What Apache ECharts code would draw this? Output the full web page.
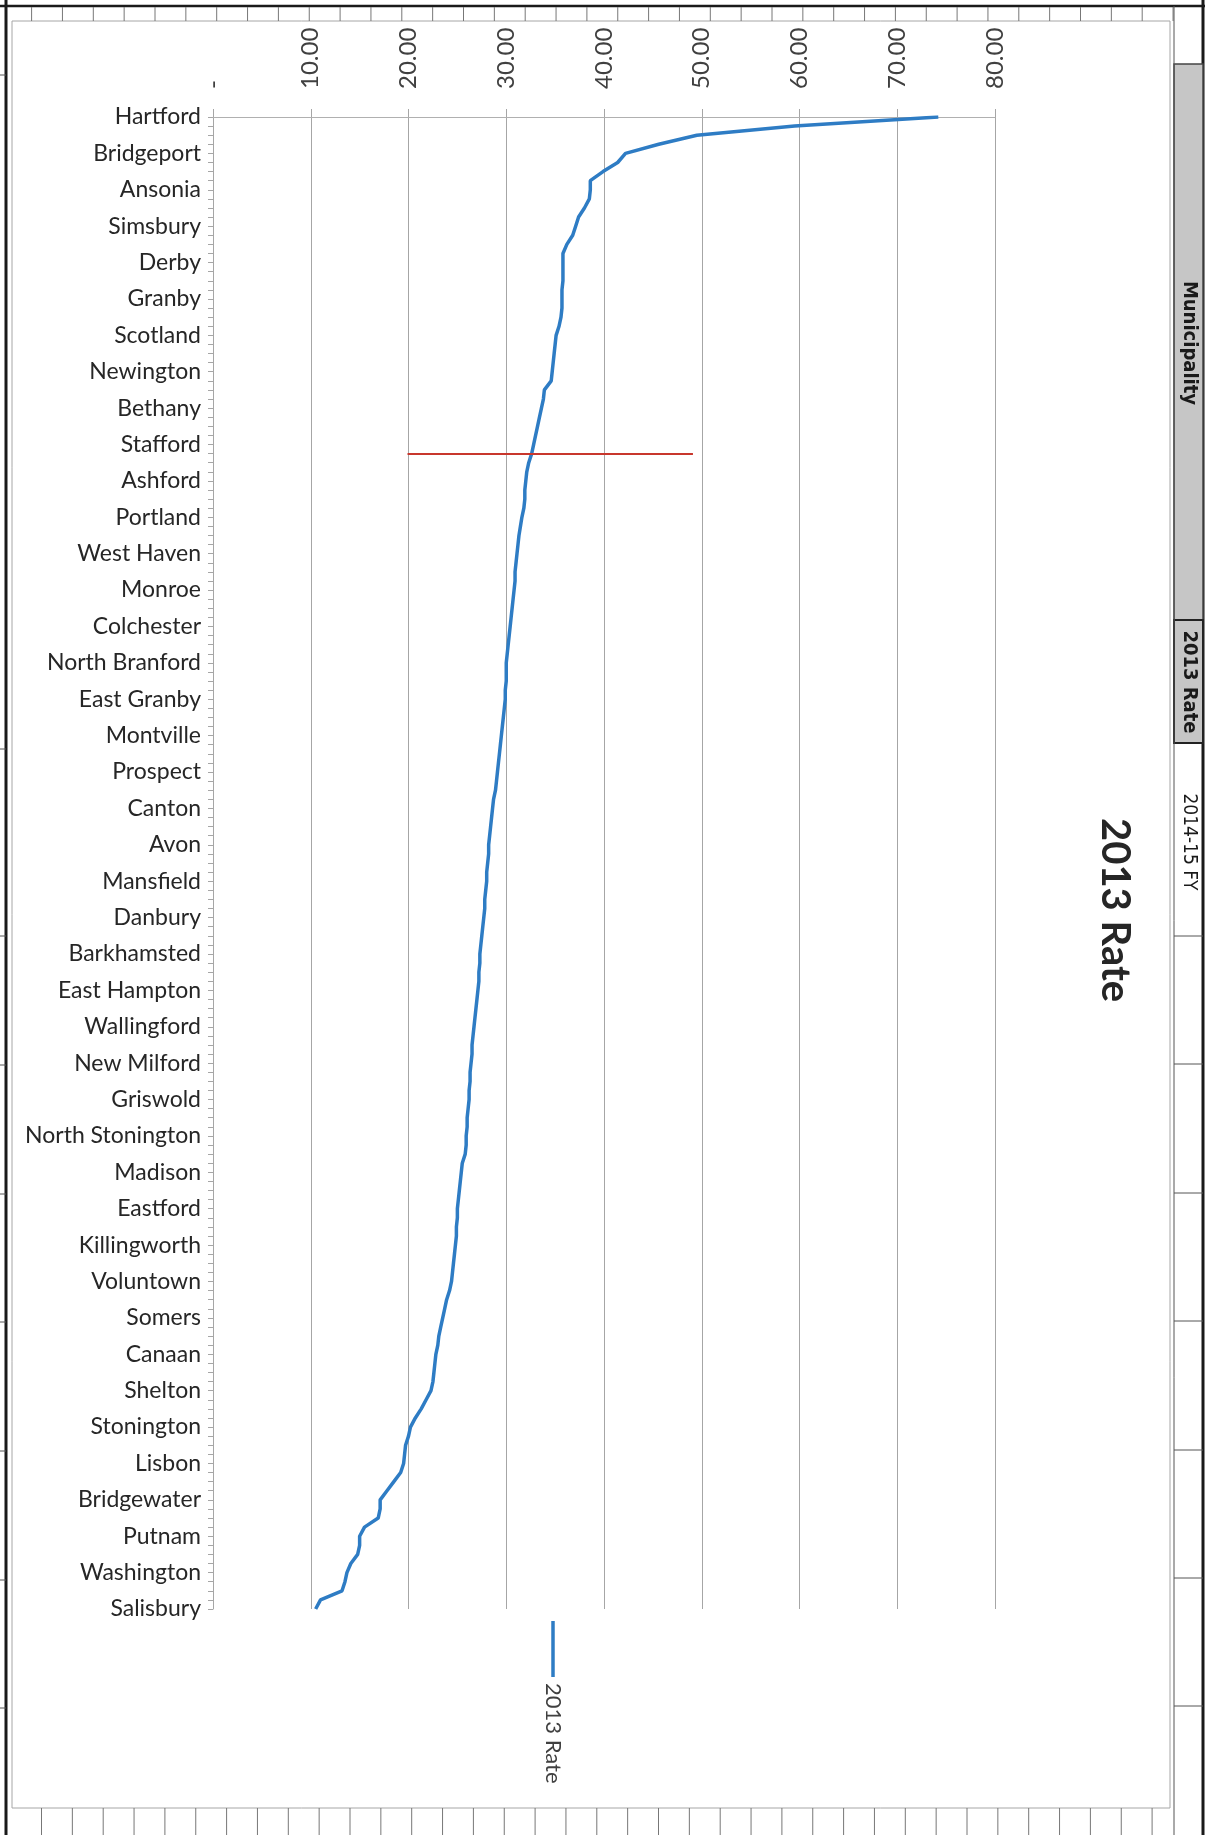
<!DOCTYPE html>
<html>
<head>
<meta charset="utf-8">
<title>2013 Rate</title>
<script src="https://cdn.jsdelivr.net/npm/echarts@6/dist/echarts.min.js"></script>
<style>
    html, body {
        margin: 0;
        padding: 0;
        background: #ffffff;
    }
    #main {
        width: 1224px;
        height: 1835px;
    }
</style>
</head>
<body>
<div id="main"></div>
<script>
    // only every 4th municipality gets a label on the axis
    var towns = ['Hartford', 'Bridgeport', 'Ansonia', 'Simsbury', 'Derby', 'Granby', 'Scotland',
        'Newington', 'Bethany', 'Stafford', 'Ashford', 'Portland', 'West Haven', 'Monroe',
        'Colchester', 'North Branford', 'East Granby', 'Montville', 'Prospect', 'Canton', 'Avon',
        'Mansfield', 'Danbury', 'Barkhamsted', 'East Hampton', 'Wallingford', 'New Milford',
        'Griswold', 'North Stonington', 'Madison', 'Eastford', 'Killingworth', 'Voluntown',
        'Somers', 'Canaan', 'Shelton', 'Stonington', 'Lisbon', 'Bridgewater', 'Putnam',
        'Washington', 'Salisbury'];

    // one row per labelled town + the 3 unlabelled ones after it
    var rate2013 = [
        74.2, 59.5, 49.5, 45.6,
        42.2, 41.4, 39.9, 38.6,
        38.6, 38.5, 38.0, 37.4,
        37.1, 36.8, 36.2, 35.8,
        35.8, 35.8, 35.8, 35.7,
        35.7, 35.7, 35.6, 35.4,
        35.1, 35.0, 34.9, 34.8,
        34.7, 34.6, 33.9, 33.8,
        33.6, 33.4, 33.2, 33.0,
        32.8, 32.6, 32.3, 32.1,
        32.0, 31.9, 31.9, 31.8,
        31.6, 31.45, 31.3, 31.2,
        31.1, 31.0, 30.9, 30.9,
        30.8, 30.7, 30.6, 30.5,
        30.4, 30.3, 30.2, 30.1,
        30.0, 30.0, 30.0, 29.9,
        29.9, 29.8, 29.7, 29.6,
        29.5, 29.4, 29.3, 29.2,
        29.1, 29.0, 28.9, 28.7,
        28.6, 28.5, 28.4, 28.3,
        28.2, 28.2, 28.1, 28.0,
        28.0, 27.9, 27.8, 27.8,
        27.7, 27.6, 27.5, 27.4,
        27.3, 27.3, 27.2, 27.2,
        27.1, 27.0, 26.9, 26.8,
        26.7, 26.6, 26.5, 26.5,
        26.4, 26.3, 26.3, 26.2,
        26.2, 26.1, 26.0, 26.0,
        25.9, 25.9, 25.8, 25.5,
        25.4, 25.3, 25.2, 25.1,
        25.0, 25.0, 24.9, 24.9,
        24.8, 24.7, 24.6, 24.5,
        24.4, 24.2, 23.9, 23.7,
        23.5, 23.3, 23.1, 23.0,
        22.8, 22.7, 22.6, 22.5,
        22.3, 21.8, 21.3, 20.7,
        20.2, 20.0, 19.7, 19.6,
        19.5, 19.2, 18.5, 17.8,
        17.1, 17.1, 16.9, 15.5,
        15.0, 15.0, 14.8, 14.1,
        13.7, 13.5, 13.2, 11.0,
        10.5
    ];

    // red marker line drawn across the curve near Stafford
    var markRow = 37;
    var markFrom = 19.9;
    var markTo = 49.1;

    // header cells of the sheet that shows at the right edge of the scan
    var headerCells = ['Municipality', '2013 Rate', '2014-15 FY'];

    var categories = [];
    for (var i = 0; i < rate2013.length; i++) {
        categories.push(i % 4 === 0 ? towns[i / 4] : '');
    }

    function sheetLines() {
        var els = [];
        var k, x;
        // page frame
        els.push({type: 'line', shape: {x1: 6, y1: 0, x2: 6, y2: 1835}, style: {stroke: '#1a1a1a', lineWidth: 3}});
        els.push({type: 'line', shape: {x1: 0, y1: 6, x2: 1205, y2: 6}, style: {stroke: '#1a1a1a', lineWidth: 2.5}});
        els.push({type: 'line', shape: {x1: 1203, y1: 0, x2: 1203, y2: 1835}, style: {stroke: '#1a1a1a', lineWidth: 3}});
        // chart area border
        els.push({type: 'rect', shape: {x: 12, y: 21, width: 1158, height: 1787}, style: {fill: null, stroke: '#a6a6a6', lineWidth: 1}});
        // row lines of the sheet, top and bottom strips
        for (k = 0; k < 38; k++) {
            x = 31.6 + 30.85 * k;
            els.push({type: 'line', shape: {x1: x, y1: 7, x2: x, y2: 21}, style: {stroke: '#777', lineWidth: 1}});
        }
        for (k = 0; k < 37; k++) {
            x = 41.5 + 30.85 * k;
            els.push({type: 'line', shape: {x1: x, y1: 1808, x2: x, y2: 1835}, style: {stroke: '#777', lineWidth: 1}});
        }
        // right column
        els.push({type: 'rect', shape: {x: 1174, y: 64, width: 29, height: 556}, style: {fill: '#c6c6c6', stroke: '#444', lineWidth: 1.5}});
        els.push({type: 'rect', shape: {x: 1174, y: 620, width: 29, height: 123}, style: {fill: '#c6c6c6', stroke: '#222', lineWidth: 2}});
        els.push({type: 'line', shape: {x1: 1174, y1: 6, x2: 1174, y2: 1835}, style: {stroke: '#555', lineWidth: 1}});
        [936, 1064, 1193, 1321, 1450, 1578, 1706].forEach(function (y) {
            els.push({type: 'line', shape: {x1: 1174, y1: y, x2: 1203, y2: y}, style: {stroke: '#555', lineWidth: 1}});
        });
        // stubs on the left edge
        [75, 749, 936, 1065, 1194, 1322, 1451, 1580, 1708].forEach(function (y) {
            els.push({type: 'line', shape: {x1: 0, y1: y, x2: 6, y2: y}, style: {stroke: '#555', lineWidth: 1}});
        });
        // header texts
        var hy = [343, 682, 842];
        headerCells.forEach(function (t, j) {
            els.push({
                type: 'text', x: 1189, y: hy[j], rotation: -Math.PI / 2,
                style: {
                    text: t, x: 0, y: 0, align: 'center', verticalAlign: 'middle',
                    font: (j < 2 ? 'bold 20px ' : '19px ') + '"DejaVu Sans Condensed", "Liberation Sans Narrow", sans-serif',
                    fill: '#1a1a1a'
                }
            });
        });
        // chart title
        els.push({
            type: 'text', x: 1115, y: 910, rotation: -Math.PI / 2,
            style: {text: '2013 Rate', x: 0, y: 0, align: 'center', verticalAlign: 'middle', font: 'bold 40px Lato, sans-serif', fill: '#262626'}
        });
        // legend
        els.push({type: 'line', shape: {x1: 553, y1: 1621, x2: 553, y2: 1677}, style: {stroke: '#2e7cc4', lineWidth: 3.5}});
        els.push({
            type: 'text', x: 553, y: 1683, rotation: -Math.PI / 2,
            style: {text: '2013 Rate', x: 0, y: 0, align: 'left', verticalAlign: 'middle', font: '22px Lato, sans-serif', fill: '#404040'}
        });
        return els;
    }

    var myChart = echarts.init(document.getElementById('main'));

    var option = {
        animation: false,
        backgroundColor: '#ffffff',
        textStyle: {fontFamily: 'Lato, "Open Sans", sans-serif'},
        grid: {left: 213, right: 229, top: 117, bottom: 226},
        xAxis: {
            type: 'value',
            position: 'top',
            min: 0,
            max: 80,
            interval: 10,
            axisLine: {show: true, lineStyle: {color: '#b0b0b0'}},
            axisTick: {show: true, length: 8, lineStyle: {color: '#a6a6a6'}},
            axisLabel: {
                rotate: -90,
                margin: 28,
                fontSize: 24,
                color: '#404040',
                formatter: function (v) {
                    // accounting format shows zero as a dash followed by spaces
                    return v === 0 ? '{dash|-}{gap|.}' : v.toFixed(2);
                },
                rich: {
                    dash: {fontSize: 24, color: '#404040'},
                    gap: {fontSize: 24, color: 'rgba(0,0,0,0)', width: 14}
                }
            },
            splitLine: {show: true, lineStyle: {color: '#a6a6a6'}}
        },
        yAxis: {
            type: 'category',
            inverse: true,
            boundaryGap: false,
            data: categories,
            axisLine: {show: true, lineStyle: {color: '#a6a6a6'}},
            axisTick: {show: true, interval: 0, length: 5, lineStyle: {color: '#a6a6a6'}},
            axisLabel: {interval: 3, margin: 12, fontSize: 23, color: '#262626'},
            splitLine: {show: false}
        },
        series: [{
            name: '2013 Rate',
            type: 'line',
            data: rate2013,
            symbol: 'none',
            showSymbol: false,
            lineStyle: {color: '#2e7cc4', width: 3.5},
            itemStyle: {color: '#2e7cc4'},
            markLine: {
                silent: true,
                symbol: 'none',
                label: {show: false},
                lineStyle: {color: '#c8372d', width: 2, type: 'solid'},
                data: [[{coord: [markFrom, markRow]}, {coord: [markTo, markRow]}]]
            }
        }],
        graphic: sheetLines()
    };

    myChart.setOption(option);
</script>
</body>
</html>
